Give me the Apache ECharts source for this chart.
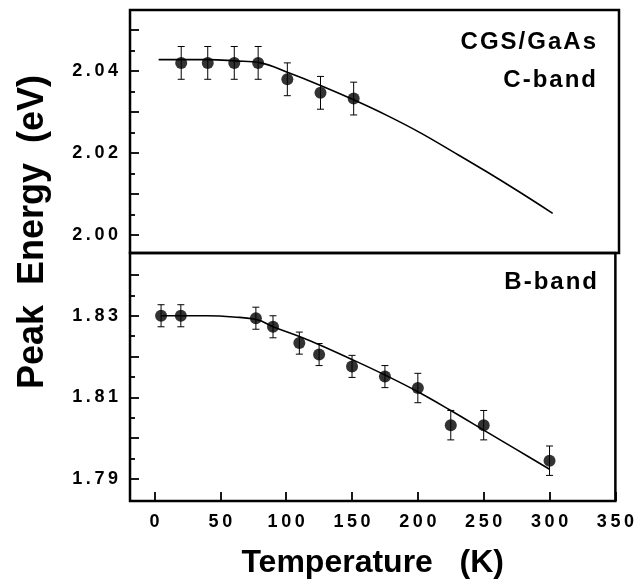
<!DOCTYPE html>
<html><head><meta charset="utf-8">
<script src="https://cdn.jsdelivr.net/npm/echarts@6/dist/echarts.min.js"></script>
<style>html,body{margin:0;padding:0;background:#fff}#c{width:637px;height:581px}</style>
</head><body><div id="c"></div>
<script>
// C-band (top panel)
const cTemp = [20, 40, 60, 78, 100, 125, 150];
const cEnergy = [2.0420, 2.0420, 2.0420, 2.0420, 2.0380, 2.0347, 2.0333];
const cErr = [0.004, 0.004, 0.004, 0.004, 0.004, 0.004, 0.004];
const cFitT = [3, 20, 40, 60, 80, 100, 125, 150, 175, 200, 225, 250, 275, 300];
const cFitE = [2.0428, 2.0428, 2.0428, 2.0425, 2.0420, 2.0397, 2.0365, 2.0330, 2.0292, 2.0250, 2.0203, 2.0155, 2.0105, 2.0053];
// B-band (bottom panel)
const bTemp = [5, 20, 77, 90, 110, 125, 150, 175, 200, 225, 250, 300];
const bEnergy = [1.8300, 1.8300, 1.8294, 1.8273, 1.8233, 1.8205, 1.8176, 1.8151, 1.8123, 1.8032, 1.8032, 1.7945];
const bErr = [0.0027, 0.0027, 0.0027, 0.0027, 0.0027, 0.0027, 0.0027, 0.0027, 0.0036, 0.0036, 0.0036, 0.0036];
const bFitT = [5, 20, 40, 60, 78, 91, 111, 126, 150, 175, 200, 225, 250, 275, 300];
const bFitE = [1.8300, 1.8300, 1.8300, 1.8297, 1.8290, 1.8272, 1.8248, 1.8228, 1.8193, 1.8155, 1.8114, 1.8068, 1.8020, 1.7972, 1.7924];
// ticks
const xTicks = [0, 50, 100, 150, 200, 250, 300, 350];
const cLabels = [2.00, 2.02, 2.04];
const cMajor = [2.00, 2.01, 2.02, 2.03, 2.04, 2.05];
const cMinor = [2.005, 2.015, 2.025, 2.035, 2.045];
const bLabels = [1.79, 1.81, 1.83];
const bMajor = [1.79, 1.80, 1.81, 1.82, 1.83, 1.84];
const bMinor = [1.795, 1.805, 1.815, 1.825, 1.835];

const FONT = '"Liberation Sans", Arial, Helvetica, sans-serif';
const sp = s => String(s).split('').join('\u2009');
const hs = s => String(s).split('').join('\u200A');
const zip3 = (a, b, c) => a.map((v, i) => [v, b[i], c[i]]);
const zip2 = (a, b) => a.map((v, i) => [v, b[i]]);

function errRender(params, api) {
  const x = api.value(0), y = api.value(1), e = api.value(2);
  const hi = api.coord([x, y + e]), lo = api.coord([x, y - e]);
  const w = 3.5;
  const style = { stroke: '#000', lineWidth: 1 };
  return { type: 'group', children: [
    { type: 'line', shape: { x1: hi[0], y1: hi[1], x2: lo[0], y2: lo[1] }, style },
    { type: 'line', shape: { x1: hi[0] - w, y1: hi[1], x2: hi[0] + w, y2: hi[1] }, style },
    { type: 'line', shape: { x1: lo[0] - w, y1: lo[1], x2: lo[0] + w, y2: lo[1] }, style }
  ]};
}

const X_MIN = -18.6, X_MAX = 350;
const gridBase = { left: 130, right: 18, show: true, borderColor: '#000', borderWidth: 2.5, backgroundColor: 'transparent' };

function yAx(gi, min, max, ticks, len, labels) {
  return {
    type: 'value', gridIndex: gi, min, max, position: 'left',
    axisLine: { show: false, onZero: false },
    splitLine: { show: false },
    axisTick: { show: true, inside: true, length: len, customValues: ticks, lineStyle: { color: '#000', width: 1.8 } },
    axisLabel: labels ? {
      show: true, customValues: labels, margin: 12,
      color: '#000', fontFamily: FONT, fontWeight: 'bold', fontSize: 18,
      formatter: v => sp(Number(v).toFixed(2))
    } : { show: false }
  };
}

const option = {
  animation: false,
  backgroundColor: '#fff',
  grid: [
    Object.assign({ top: 10, height: 243 }, gridBase),
    Object.assign({ top: 253, height: 248 }, gridBase)
  ],
  xAxis: [
    { type: 'value', gridIndex: 0, min: X_MIN, max: X_MAX, show: false, splitLine: { show: false }, axisLine: { onZero: false } },
    {
      type: 'value', gridIndex: 1, min: X_MIN, max: X_MAX,
      axisLine: { show: false, onZero: false }, splitLine: { show: false },
      axisTick: { show: true, inside: true, length: 9, customValues: xTicks, lineStyle: { color: '#000', width: 1.8 } },
      axisLabel: { show: true, customValues: xTicks, margin: 12, color: '#000', fontFamily: FONT, fontWeight: 'bold', fontSize: 18, formatter: v => sp(v) },
      name: 'Temperature   (K)', nameLocation: 'middle', nameGap: 46,
      nameTextStyle: { color: '#000', fontFamily: FONT, fontWeight: 'bold', fontSize: 32 }
    }
  ],
  yAxis: [
    yAx(0, 1.99563, 2.0549, cMajor, 9, cLabels),
    yAx(0, 1.99563, 2.0549, cMinor, 5, null),
    yAx(1, 1.78463, 1.84537, bMajor, 9, bLabels),
    yAx(1, 1.78463, 1.84537, bMinor, 5, null)
  ],
  graphic: [
    { type: 'text', x: 33, y: 232, rotation: Math.PI / 2,
      style: { text: 'Peak  Energy  (eV)', fill: '#000', font: 'bold 36px ' + FONT, textAlign: 'center', textVerticalAlign: 'middle' } },
    { type: 'text', x: 596, y: 42,
      style: { text: hs('CGS/GaAs'), fill: '#000', font: 'bold 24px ' + FONT, textAlign: 'right', textVerticalAlign: 'middle' } },
    { type: 'text', x: 596, y: 80,
      style: { text: hs('C-band'), fill: '#000', font: 'bold 24px ' + FONT, textAlign: 'right', textVerticalAlign: 'middle' } },
    { type: 'text', x: 597, y: 282,
      style: { text: hs('B-band'), fill: '#000', font: 'bold 24px ' + FONT, textAlign: 'right', textVerticalAlign: 'middle' } }
  ],
  series: [
    { type: 'line', xAxisIndex: 0, yAxisIndex: 0, data: zip2(cFitT, cFitE), smooth: 0.4, showSymbol: false,
      lineStyle: { color: '#000', width: 1.6 }, z: 2 },
    { type: 'custom', xAxisIndex: 0, yAxisIndex: 0, data: zip3(cTemp, cEnergy, cErr), renderItem: errRender,
      encode: { x: 0, y: 1 }, z: 3 },
    { type: 'scatter', xAxisIndex: 0, yAxisIndex: 0, data: zip2(cTemp, cEnergy), symbol: 'circle', symbolSize: 12,
      itemStyle: { color: '#000' }, z: 4 },
    { type: 'line', xAxisIndex: 1, yAxisIndex: 2, data: zip2(bFitT, bFitE), smooth: 0.4, showSymbol: false,
      lineStyle: { color: '#000', width: 1.6 }, z: 2 },
    { type: 'custom', xAxisIndex: 1, yAxisIndex: 2, data: zip3(bTemp, bEnergy, bErr), renderItem: errRender,
      encode: { x: 0, y: 1 }, z: 3 },
    { type: 'scatter', xAxisIndex: 1, yAxisIndex: 2, data: zip2(bTemp, bEnergy), symbol: 'circle', symbolSize: 12,
      itemStyle: { color: '#000' }, z: 4 }
  ]
};
const chart = echarts.init(document.getElementById('c'), null, { renderer: 'canvas' });
chart.setOption(option);
</script>
</body></html>
